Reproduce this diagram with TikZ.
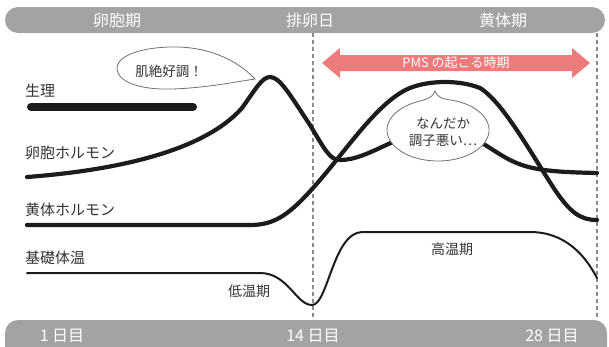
\documentclass[tikz,border=0pt]{standalone}
\usepackage{fontspec}
\setmainfont{Noto Sans CJK JP}
\definecolor{bargray}{HTML}{A3A3A3}
\definecolor{txtgray}{HTML}{333333}
\definecolor{curveblack}{HTML}{1C1C1C}
\definecolor{bubblegray}{HTML}{707070}
\definecolor{pmspink}{HTML}{EE7B7B}
\definecolor{dashgray}{HTML}{8A8A8A}
\begin{document}
\begin{tikzpicture}[x=1pt,y=-1pt,
  barbox/.style={fill=bargray, rounded corners=13pt},
  bartext/.style={text=white, font=\fontsize{16}{16}\selectfont},
  lbl/.style={text=txtgray, font=\fontsize{15}{15}\selectfont, anchor=west, inner sep=0pt},
  hormone/.style={draw=curveblack, line width=4.2pt, line cap=round},
  tempcurve/.style={draw=curveblack, line width=2pt, line cap=round},
  bubble/.style={fill=white, draw=bubblegray, line width=0.8pt},
  bubbletext/.style={text=txtgray, font=\fontsize{13.5}{17}\selectfont, align=center, inner sep=0pt},
  divider/.style={draw=dashgray, line width=1.1pt, dash pattern=on 4pt off 3pt},
  periodtext/.style={text=txtgray, font=\fontsize{14}{14}\selectfont, inner sep=0pt}]
\useasboundingbox (0,0) rectangle (609,346);
\clip (0,0) rectangle (609,346);
% bars
\fill[barbox] (5,7) rectangle (605,33);
\fill[barbox] (5,320) rectangle (607,372);
\node[bartext] (t1) at (117,20) {卵胞期};
\node[bartext] (t2) at (310,20) {排卵日};
\node[bartext] (t3) at (503,20) {黄体期};
\node[bartext] (b1) at (62,336) {1 日目};
\node[bartext] (b2) at (313,336) {14 日目};
\node[bartext] (b3) at (552,336) {28 日目};
% dividers
\coordinate (d1a) at (313,33);
\coordinate (d1b) at (313,320);
\coordinate (d2a) at (597,33);
\coordinate (d2b) at (597,320);
\draw[divider] (d1a) -- (d1b);
\draw[divider] (d2a) -- (d2b);
% PMS arrow
\fill[pmspink] (322,63) -- (340,48) -- (340,55) -- (572,55) -- (572,48) -- (590,63)
  -- (572,78) -- (572,71) -- (340,71) -- (340,78) -- cycle;
\node[text=white, font=\fontsize{13}{13}\selectfont, inner sep=0pt] (pms) at (456,63) {PMS の起こる時期};
% left labels
\node[lbl] (l1) at (25,91) {生理};
\node[lbl] (l2) at (25,153) {卵胞ホルモン};
\node[lbl] (l3) at (25,210) {黄体ホルモン};
\node[lbl] (l4) at (25,258) {基礎体温};
% menstruation bar
\draw[curveblack, line width=8pt, line cap=round] (31,107) -- (193,107);
% progesterone
\draw[hormone] (27,225) -- (250,225) .. controls (275,225) and (290,215) .. (320,180)
  .. controls (350,145) and (380,100) .. (410,88)
  .. controls (430,80) and (460,80) .. (480,88)
  .. controls (503,102) and (532,155) .. (555,190)
  .. controls (570,212) and (580,220) .. (597,220);
% estrogen
\draw[hormone] (27,177) .. controls (120,170) and (205,150) .. (242,108)
  .. controls (255,90) and (262,77) .. (270,77)
  .. controls (280,77) and (290,95) .. (310,125)
  .. controls (325,150) and (330,160) .. (340,160)
  .. controls (370,160) and (400,130) .. (440,130)
  .. controls (470,130) and (490,150) .. (510,160)
  .. controls (530,170) and (550,172) .. (597,173);
% basal body temperature
\draw[tempcurve] (27,273) -- (260,273) .. controls (288,273) and (296,305) .. (312,305)
  .. controls (328,305) and (333,233) .. (362,232)
  -- (530,232) .. controls (565,232) and (585,255) .. (597,278);
\node[periodtext] (low) at (249,291) {低温期};
\node[periodtext] (high) at (452,249) {高温期};
% bubble 1
\draw[bubble] (255,79) .. controls (235,58) and (205,46) .. (170,47)
  .. controls (135,48) and (116,58) .. (117,69)
  .. controls (118,82) and (140,90) .. (172,89)
  .. controls (205,88) and (235,82) .. (255,79) -- cycle;
\node[bubbletext] (s1) at (169,71) {肌絶好調！};
% bubble 2
\draw[bubble] (420,101) .. controls (428,99) and (433,97) .. (435,91)
  .. controls (437,97) and (442,99) .. (452,100.2)
  arc[start angle=74.1, end angle=-249.3, x radius=51pt, y radius=31pt] -- cycle;
\node[bubbletext] (s2) at (443,132) {なんだか\\調子悪い…};
\end{tikzpicture}
\end{document}
